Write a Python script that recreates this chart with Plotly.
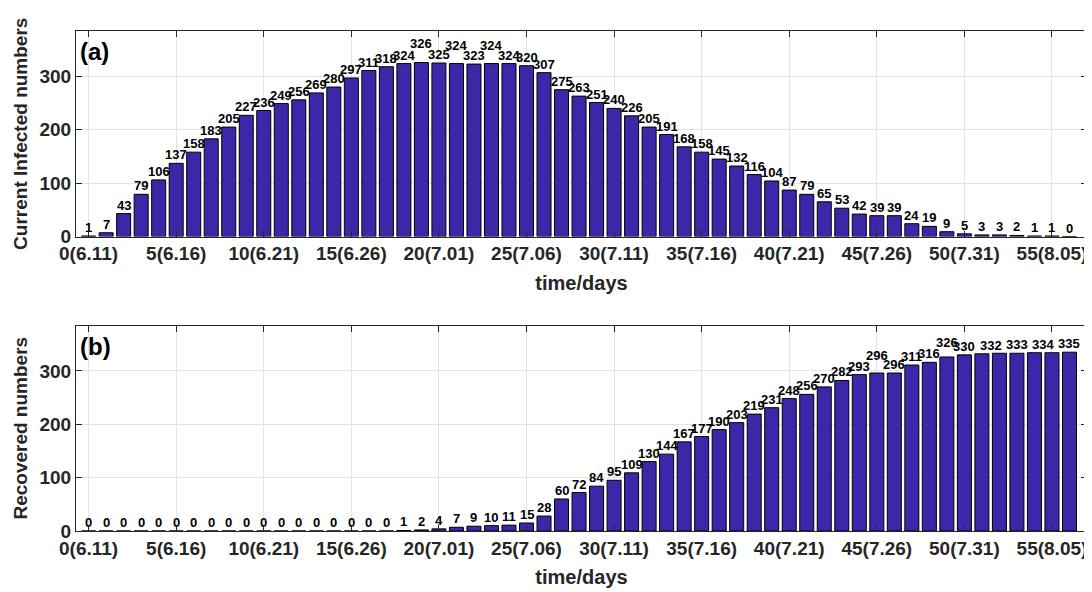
import plotly.graph_objects as go
from plotly.subplots import make_subplots

days = list(range(57))
tick_vals = list(range(0, 56, 5))
tick_text = ['0(6.11)', '5(6.16)', '10(6.21)', '15(6.26)', '20(7.01)', '25(7.06)',
             '30(7.11)', '35(7.16)', '40(7.21)', '45(7.26)', '50(7.31)', '55(8.05)']
y_ticks = [0, 100, 200, 300]

infected = [1, 7, 43, 79, 106, 137, 158, 183, 205, 227, 236, 249, 256, 269, 280, 297,
            311, 318, 324, 326, 325, 324, 323, 324, 324, 320, 307, 275, 263, 251, 240,
            226, 205, 191, 168, 158, 145, 132, 116, 104, 87, 79, 65, 53, 42, 39, 39, 24,
            19, 9, 5, 3, 3, 2, 1, 1, 0]

recovered = [0, 0, 0, 0, 0, 0, 0, 0, 0, 0, 0, 0, 0, 0, 0, 0, 0, 0, 1, 2, 4, 7, 9, 10,
             11, 15, 28, 60, 72, 84, 95, 109, 130, 144, 167, 177, 190, 203, 219, 231,
             248, 256, 270, 282, 293, 296, 296, 311, 316, 326, 330, 332, 333, 333, 334,
             334, 335]

# labels shown above the recovered bars (crowded tail thinned out like the original)
recovered_labels = [str(v) for v in recovered]
recovered_labels[52] = ''
recovered_labels[55] = ''

# small manual nudges so overlapping labels stay readable (pixels)
raise_a = {19: 10, 21: 10, 23: 10}
raise_b = {45: 9, 49: 6}
shift_b = {51: 9, 54: 9}

BAR = '#3e26a8'
FONT = 'Liberation Sans, Arial, sans-serif'
INK = '#262626'

fig = make_subplots(rows=2, cols=1, vertical_spacing=0.178)

fig.add_trace(go.Bar(x=days, y=infected, marker=dict(color=BAR, line=dict(color='black', width=1)),
                     width=0.8), row=1, col=1)
fig.add_trace(go.Bar(x=days, y=recovered, marker=dict(color=BAR, line=dict(color='black', width=1)),
                     width=0.8), row=2, col=1)

annotations = []
for i, v in enumerate(infected):
    annotations.append(dict(x=i, y=v, xref='x', yref='y', text='<b>%d</b>' % v, showarrow=False,
                            yanchor='bottom', yshift=-1 + raise_a.get(i, 0),
                            font=dict(size=13, color='black', family=FONT)))
for i, v in enumerate(recovered):
    if recovered_labels[i] == '':
        continue
    annotations.append(dict(x=i, y=v, xref='x2', yref='y2', text='<b>%s</b>' % recovered_labels[i],
                            showarrow=False, yanchor='bottom', yshift=-1 + raise_b.get(i, 0),
                            xshift=shift_b.get(i, 0),
                            font=dict(size=13, color='black', family=FONT)))

for ref, tag in (('', '(a)'), ('2', '(b)')):
    annotations.append(dict(x=0.002, y=0.975, xref='x%s domain' % ref, yref='y%s domain' % ref,
                            text='<b>%s</b>' % tag, showarrow=False, xanchor='left', yanchor='top',
                            font=dict(size=24, family=FONT, color='black')))

axis_style = dict(showline=True, linecolor=INK, linewidth=1, mirror='ticks',
                  ticks='inside', ticklen=6, tickcolor=INK,
                  showgrid=True, gridcolor='#e3e3e3', zeroline=False,
                  tickfont=dict(size=19, family=FONT, color=INK))

for r in (1, 2):
    fig.update_xaxes(axis_style, range=[-0.72, 57], tickmode='array', tickvals=tick_vals,
                     ticktext=['<b>%s</b>' % t for t in tick_text],
                     title=dict(text='<b>time/days</b>', font=dict(size=20, family=FONT, color=INK), standoff=12),
                     row=r, col=1)
    fig.update_yaxes(axis_style, range=[0, 385], tickvals=y_ticks,
                     ticktext=['<b>%d</b>' % t for t in y_ticks], row=r, col=1)

fig.update_yaxes(title=dict(text='<b>Current Infected numbers</b>', font=dict(size=19, family=FONT, color=INK),
                            standoff=6), row=1, col=1)
fig.update_yaxes(title=dict(text='<b>Recovered numbers</b>', font=dict(size=19, family=FONT, color=INK),
                            standoff=6), row=2, col=1)

# the page adds an 8px body margin, so the figure is sized to fit the window
fig.update_layout(width=1084, height=584, margin=dict(l=68, r=5, t=23, b=61, autoexpand=False),
                  plot_bgcolor='white', paper_bgcolor='white', showlegend=False,
                  bargap=0.2, annotations=annotations)

fig.write_html("out.html")
